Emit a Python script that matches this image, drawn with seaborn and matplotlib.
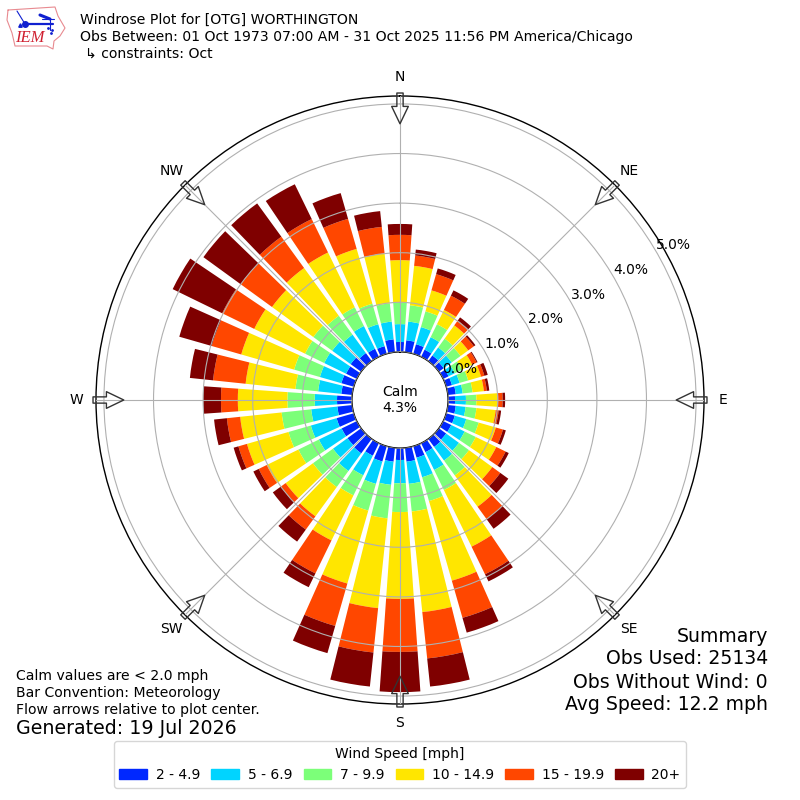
import numpy as np
import seaborn as sns
import matplotlib
matplotlib.use("Agg")
import matplotlib.pyplot as plt
from matplotlib.patches import Patch

sns.set_style("white")
plt.rcParams['font.family'] = ['DejaVu Sans']
plt.rcParams['text.color'] = 'black'
plt.rcParams['xtick.color'] = 'black'
plt.rcParams['ytick.color'] = 'black'

# wind direction bins, degrees from north
directions = np.arange(0, 360, 10)

# cumulative percent of obs at the top of each speed class
upto_5 = [.20, .24, .20, .16, .14, .12, .12, .12, .16, .14, .16, .18, .18, .18, .20, .20, .24, .28,
          .24, .28, .32, .28, .36, .34, .34, .36, .30, .30, .22, .26, .24, .26, .20, .18, .16, .26]
upto_7 = [.56, .62, .56, .44, .34, .32, .26, .28, .30, .36, .36, .42, .48, .50, .54, .60, .65, .73,
          .71, .75, .79, .72, .80, .70, .85, .90, .83, .75, .69, .71, .73, .72, .66, .69, .62, .62]
upto_10 = [.99, .95, .89, .73, .56, .54, .42, .46, .50, .57, .58, .68, .73, .75, .91, 1.05, 1.15, 1.29,
           1.29, 1.43, 1.35, 1.17, 1.20, 1.20, 1.31, 1.37, 1.43, 1.30, 1.15, 1.25, 1.16, 1.19, 1.13, 1.11, 1.05, .99]
upto_15 = [1.85, 1.75, 1.33, 1.05, .89, .73, .65, .73, .73, 1.01, .97, 1.04, 1.19, 1.33, 1.69, 2.32, 2.82, 3.33,
           3.04, 3.25, 2.88, 2.18, 1.93, 1.88, 2.02, 2.24, 2.27, 2.30, 2.16, 2.36, 2.30, 2.22, 2.32, 2.34, 2.20, 2.00]
upto_20 = [2.36, 1.96, 1.67, 1.37, 1.01, .87, .75, .80, .79, 1.10, 1.03, 1.19, 1.40, 1.53, 2.00, 2.94, 3.60, 4.27,
           4.11, 4.15, 3.77, 2.92, 2.26, 2.00, 2.20, 2.42, 2.54, 2.64, 2.82, 2.98, 3.02, 3.00, 3.10, 3.09, 2.83, 2.54]
over_20 = [2.58, 2.08, 1.79, 1.49, 1.09, .91, .77, .87, .84, 1.15, 1.08, 1.25, 1.47, 1.73, 2.24, 3.10, 3.91, 4.84,
           4.92, 4.84, 4.34, 3.23, 2.56, 2.20, 2.32, 2.52, 2.80, 3.00, 3.29, 3.66, 4.13, 3.93, 3.93, 3.87, 3.37, 2.86]

speed_labels = ["2 - 4.9", "5 - 6.9", "7 - 9.9", "10 - 14.9", "15 - 19.9", "20+"]
speed_colors = ["#0028ff", "#00d4ff", "#7cff79", "#ffe600", "#ff4700", "#7f0000"]
compass = ["N", "NE", "E", "SE", "S", "SW", "W", "NW"]
r_ticks = [0, 1, 2, 3, 4, 5]

stacks = np.array([upto_5, upto_7, upto_10, upto_15, upto_20, over_20])
theta = np.deg2rad(directions)

fig = plt.figure(figsize=(8, 8), dpi=100)
ax = fig.add_axes([96 / 800, 96 / 800, 608 / 800, 608 / 800], projection="polar")
ax.set_theta_zero_location("N")
ax.set_theta_direction(-1)

bottom = np.zeros(len(theta))
for top, color in zip(stacks, speed_colors):
    sns.barplot(x=theta, y=top - bottom, bottom=bottom, native_scale=True, width=0.8,
                color=color, saturation=1, errorbar=None, linewidth=0, ax=ax)
    bottom = top

ax.set_xlabel("")
ax.set_ylabel("")
ax.set_rorigin(-0.97)
ax.set_rlim(0, 5.16)
ax.set_axisbelow(False)
ax.set_thetagrids(np.arange(0, 360, 45), compass)
ax.set_rgrids(r_ticks, [f"{v:.1f}%" for v in r_ticks], angle=60)
ax.grid(True, color="#b0b0b0", linewidth=0.8)
ax.tick_params(axis="x", pad=3.5, labelsize=10)
ax.tick_params(axis="y", labelsize=10)
for spine in ax.spines.values():
    spine.set_edgecolor("black")
    spine.set_linewidth(1)

# flow arrows on the eight grid directions, hollow so the bars show through
for deg in np.arange(0, 360, 45):
    ax.annotate("", xy=(np.deg2rad(deg), 4.6), xytext=(np.deg2rad(deg), 5.22), annotation_clip=False,
                arrowprops=dict(facecolor="none", edgecolor="#333333", width=4.5, headwidth=12,
                                headlength=12.5, shrink=0, linewidth=1))

ax.text(0, -0.97, "Calm\n4.3%", ha="center", va="center", fontsize=10, transform=ax.transData)

# overlay in pixel coords for the text blocks and the logo
over = fig.add_axes([0, 0, 1, 1])
over.set_xlim(0, 800)
over.set_ylim(800, 0)
over.axis("off")
over.patch.set_alpha(0)

over.text(80, 20, "Windrose Plot for [OTG] WORTHINGTON", fontsize=10.1, va="center")
over.text(80, 37, "Obs Between: 01 Oct 1973 07:00 AM - 31 Oct 2025 11:56 PM America/Chicago", fontsize=10.1, va="center")
over.text(85, 54, "↳ constraints: Oct", fontsize=10.1, va="center")

over.text(16, 676, "Calm values are < 2.0 mph", fontsize=10.1, va="center")
over.text(16, 693, "Bar Convention: Meteorology", fontsize=10.1, va="center")
over.text(16, 710, "Flow arrows relative to plot center.", fontsize=10.1, va="center")
over.text(16, 729, "Generated: 19 Jul 2026", fontsize=13.7, va="center")

over.text(768, 636, "Summary", fontsize=13.6, ha="right", va="center")
over.text(768, 659, "Obs Used: 25134", fontsize=13.6, ha="right", va="center")
over.text(768, 682, "Obs Without Wind: 0", fontsize=13.6, ha="right", va="center")
over.text(768, 705, "Avg Speed: 12.2 mph", fontsize=13.6, ha="right", va="center")

# IEM logo
iowa_x = [8, 55, 58, 65, 60, 54, 53, 47, 15, 12, 7, 8]
iowa_y = [10, 7, 16, 28, 36, 41, 49, 46, 46, 33, 20, 10]
over.plot(iowa_x, iowa_y, color="#e88a90", linewidth=0.8)
over.plot([25, 53], [24, 24], color="#1020d0", linewidth=1.6)
over.plot([25], [24], "o", color="#1020d0", markersize=4)
over.plot([17, 25], [11, 24], color="#1020d0", linewidth=0.8)
over.plot([40, 50], [15, 19], color="#1020d0", linewidth=2.2)
over.plot([42, 54], [19, 19], color="#1020d0", linewidth=0.8)
over.plot([50, 50], [19, 30], color="#1020d0", linewidth=0.8)
over.plot([48, 52, 51], [28, 30, 33], ".", color="#1020d0", markersize=2)
over.plot([20], [25], "^", color="#1020d0", markersize=2.5)
over.text(30, 38, "IEM", color="#d02030", fontsize=12, family="Liberation Serif", style="italic", ha="center", va="center")

handles = [Patch(color=c, label=l) for c, l in zip(speed_colors, speed_labels)]
fig.legend(handles=handles, title="Wind Speed [mph]", ncol=6, loc="center",
           bbox_to_anchor=(0.5, 1 - 764.5 / 800), fontsize=10, title_fontsize=10, frameon=True,
           columnspacing=0.83, handletextpad=0.6)

fig.savefig("out.png", dpi=100)
